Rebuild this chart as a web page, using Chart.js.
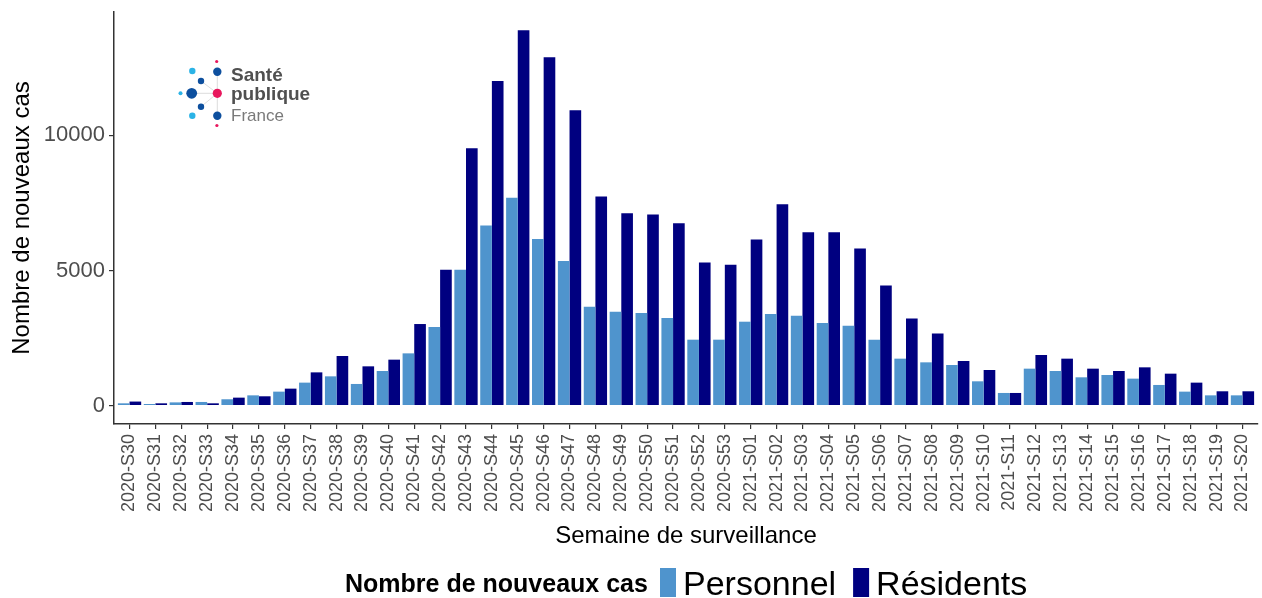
<!DOCTYPE html>
<html>
<head>
<meta charset="utf-8">
<script src="https://cdn.jsdelivr.net/npm/chart.js@4.4.1/dist/chart.umd.min.js"></script>
<style>
  html, body { margin: 0; padding: 0; background: #fff; }
  #wrap { width: 1262px; height: 598px; }
</style>
</head>
<body>
<div id="wrap"><canvas id="casesChart"></canvas></div>
<script>
const weekLabels = [
    '2020-S30', '2020-S31', '2020-S32', '2020-S33', '2020-S34', '2020-S35',
    '2020-S36', '2020-S37', '2020-S38', '2020-S39', '2020-S40', '2020-S41',
    '2020-S42', '2020-S43', '2020-S44', '2020-S45', '2020-S46', '2020-S47',
    '2020-S48', '2020-S49', '2020-S50', '2020-S51', '2020-S52', '2020-S53',
    '2021-S01', '2021-S02', '2021-S03', '2021-S04', '2021-S05', '2021-S06',
    '2021-S07', '2021-S08', '2021-S09', '2021-S10', '2021-S11', '2021-S12',
    '2021-S13', '2021-S14', '2021-S15', '2021-S16', '2021-S17', '2021-S18',
    '2021-S19', '2021-S20'
];
const personnelCases = [
    85, 60, 120, 135, 235, 380, 517, 850, 1083, 801, 1281, 1933,
    2907, 5025, 6663, 7686, 6159, 5346, 3658, 3473, 3424, 3239, 2439, 2439,
    3104, 3387, 3326, 3055, 2956, 2439, 1737, 1601, 1503, 899, 468, 1367,
    1281, 1047, 1133, 998, 764, 517, 380, 380
];
const residentCases = [
    150, 85, 135, 85, 295, 345, 628, 1230, 1836, 1453, 1700, 3018,
    5025, 9520, 12009, 13882, 12884, 10925, 7734, 7119, 7070, 6750, 5296, 5210,
    6146, 7452, 6417, 6417, 5813, 4446, 3226, 2672, 1651, 1318, 468, 1873,
    1737, 1367, 1281, 1416, 1182, 850, 530, 530
];
const yTickValues = [0, 5000, 10000];
const seriesNames = ['Personnel', 'Résidents'];
const legendTitle = 'Nombre de nouveaux cas';

const FONT = '"Liberation Sans", Arial, sans-serif';
const AXIS_COLOR = '#333333';
const TICK_TEXT = '#4d4d4d';


// ggplot-like legend: bold title followed by the series keys, on one line
const inlineLegend = {
    id: 'inlineLegend',
    afterDraw(chart) {
        const ctx = chart.ctx;
        ctx.save();
        ctx.textBaseline = 'alphabetic';
        ctx.fillStyle = '#000';
        ctx.font = `bold 25px ${FONT}`;
        ctx.fillText(legendTitle, 345, 592);
        let x = 660;
        chart.data.datasets.forEach(function(ds) {
            ctx.fillStyle = ds.backgroundColor;
            ctx.fillRect(x, 568, 16, 29);
            ctx.fillStyle = '#000';
            ctx.font = `34px ${FONT}`;
            ctx.fillText(ds.label, x + 23, 595);
            x += 23 + ctx.measureText(ds.label).width + 17;
        });
        ctx.restore();
    }
};

// Santé publique France logo in the top-left corner of the panel
const logo = {
    id: 'logo',
    afterDraw(chart) {
        const ctx = chart.ctx;
        const dark = '#0d4f9e', cyan = '#2bb3e6', pink = '#e8175d';
        ctx.save();
        ctx.strokeStyle = '#dddddd';
        ctx.lineWidth = 1;
        [[191.7, 93.3], [217.3, 71.7], [217.3, 115.7], [201, 81], [201, 106.7]]
            .forEach(function(p) {
                ctx.beginPath();
                ctx.moveTo(217.3, 93.3);
                ctx.lineTo(p[0], p[1]);
                ctx.stroke();
            });
        const dots = [
            [216.7, 61.5, 1.6, pink], [217.3, 71.7, 4.2, dark],
            [192.3, 71, 3.2, cyan], [201, 81, 3.2, dark],
            [180.5, 93.3, 2, cyan], [191.7, 93.3, 5.4, dark],
            [217.3, 93.3, 4.6, pink], [201, 106.7, 3.2, dark],
            [192.3, 115.7, 3.2, cyan], [217.3, 115.7, 4.2, dark],
            [216.9, 125.5, 1.6, pink]
        ];
        dots.forEach(function(d) {
            ctx.beginPath();
            ctx.arc(d[0], d[1], d[2], 0, Math.PI * 2);
            ctx.fillStyle = d[3];
            ctx.fill();
        });
        ctx.textBaseline = 'alphabetic';
        ctx.fillStyle = '#505050';
        ctx.font = `bold 19px ${FONT}`;
        ctx.fillText('Santé', 231, 81);
        ctx.fillText('publique', 231, 100);
        ctx.fillStyle = '#7a7a7a';
        ctx.font = `17px ${FONT}`;
        ctx.fillText('France', 231, 121);
        ctx.restore();
    }
};


document.addEventListener('DOMContentLoaded', function() {
    const config = {
        type: 'bar',
        data: {
            datasets: [{
                label: seriesNames[0],
                data: personnelCases.map((v, i) => ({x: i, y: v})),
                backgroundColor: '#4f94cd',
                categoryPercentage: 0.9,
                barPercentage: 1.0,
            }, {
                label: seriesNames[1],
                data: residentCases.map((v, i) => ({x: i, y: v})),
                backgroundColor: '#000080',
                categoryPercentage: 0.9,
                barPercentage: 1.0,
            }]
        },
        options: {
            responsive: false,
            animation: false,
            layout: {
                padding: {left: 0, right: 4, top: 12, bottom: 47}
            },
            plugins: {
                legend: {display: false},
                tooltip: {enabled: false},
            },
            scales: {
                x: {
                    type: 'linear',
                    min: -0.6,
                    max: weekLabels.length - 1 + 0.6,
                    offset: false,
                    afterBuildTicks: (scale) => {
                        scale.ticks = weekLabels.map((_, i) => ({value: i}));
                    },
                    afterFit: (scale) => {
                        scale.height = 127;
                        scale.paddingLeft = 0;
                        scale.paddingRight = 0;
                    },
                    border: {display: true, color: AXIS_COLOR, width: 1.5},
                    grid: {
                        offset: false,
                        drawOnChartArea: false,
                        drawTicks: true,
                        tickLength: 5,
                        color: AXIS_COLOR,
                        lineWidth: 1.2,
                    },
                    ticks: {
                        autoSkip: false,
                        minRotation: 90,
                        maxRotation: 90,
                        padding: 5,
                        color: TICK_TEXT,
                        font: {family: FONT, size: 18},
                        callback: (value) => weekLabels[value],
                    },
                    title: {
                        display: true,
                        text: 'Semaine de surveillance',
                        color: '#000',
                        font: {family: FONT, size: 24},
                        padding: {top: 0, bottom: 0},
                    }
                },
                y: {
                    min: -680,
                    max: 14560,
                    afterBuildTicks: (scale) => {
                        scale.ticks = yTickValues.map(v => ({value: v}));
                    },
                    afterFit: (scale) => {
                        scale.width = 114;
                        scale.paddingTop = 0;
                        scale.paddingBottom = 0;
                    },
                    border: {display: true, color: AXIS_COLOR, width: 1.5},
                    grid: {
                        drawOnChartArea: false,
                        drawTicks: true,
                        tickLength: 5,
                        color: AXIS_COLOR,
                        lineWidth: 1.2,
                    },
                    ticks: {
                        padding: 4,
                        color: TICK_TEXT,
                        font: {family: FONT, size: 22},
                        callback: (value) => String(value),
                    },
                    title: {
                        display: true,
                        text: 'Nombre de nouveaux cas',
                        color: '#000',
                        font: {family: FONT, size: 24},
                        padding: {top: 8, bottom: 0},
                    }
                }
            }
        },
        plugins: [inlineLegend, logo]
    };
    const canvas = document.getElementById('casesChart');
    canvas.width = 1262;
    canvas.height = 598;
    new Chart(canvas, config);
});
</script>
</body>
</html>
